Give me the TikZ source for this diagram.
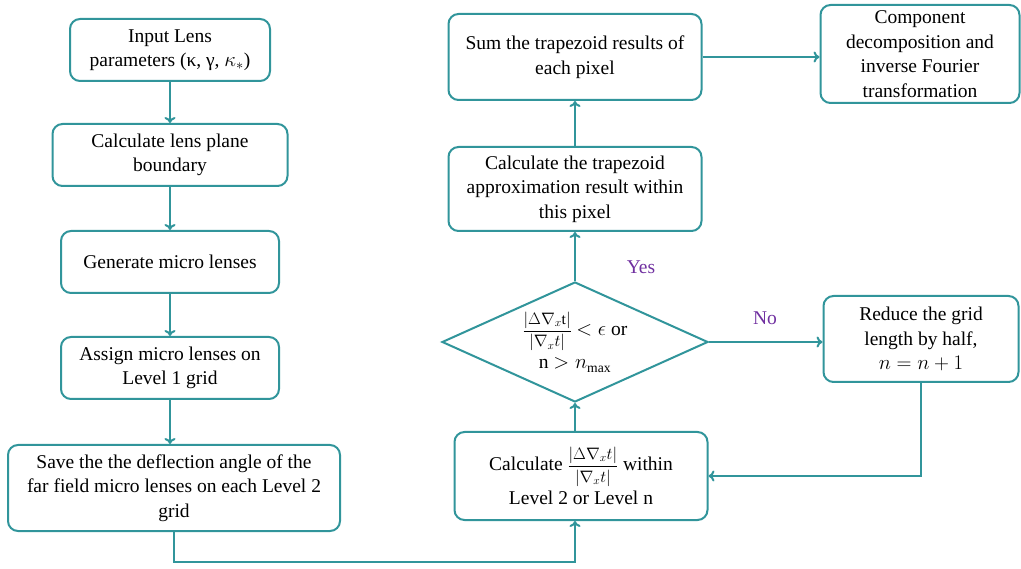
\documentclass[tikz,border=0pt]{standalone}
\usepackage{amsmath}
\usepackage{fontspec}
\setmainfont{Liberation Serif}
\usetikzlibrary{shapes.geometric,arrows.meta}
\definecolor{tealc}{RGB}{49,149,155}
\definecolor{purpc}{RGB}{112,48,160}
\newcommand{\gradfrac}[1]{\scalebox{0.8}{$\dfrac{|\Delta\nabla_x #1|}{|\nabla_x t|}$}}
\tikzset{
	box/.style 2 args={draw=tealc,line width=2pt,rounded corners=10pt,fill=white,minimum width=#1,minimum height=#2,align=center,inner sep=0pt,font=\fontsize{19.5}{24.5}\selectfont},
	dec/.style={diamond,draw=tealc,line width=2pt,fill=white,aspect=2.2,minimum width=266pt,minimum height=120pt,align=center,inner sep=0pt,font=\fontsize{19.5}{24.5}\selectfont},
	lbl/.style={text=purpc,font=\fontsize{19.5}{22}\selectfont},
	link/.style={draw=tealc,line width=2pt,-{To[length=6pt,width=11pt]}}
}

\begin{document}
\begin{tikzpicture}[x=1pt,y=-1pt]
	\useasboundingbox (0,0) rectangle (1021,569);
	% left column
	\node [box={200pt}{62pt}] (inp) at (170,50) {Input Lens\\parameters (κ, γ, $\kappa_*$)};
	\node [box={235pt}{62pt}] (bnd) at (170,155) {Calculate lens plane\\boundary};
	\node [box={218pt}{62pt}] (gen) at (170,262) {Generate micro lenses};
	\node [box={218pt}{62pt}] (asg) at (170,368) {Assign micro lenses on\\Level 1 grid};
	\node [box={332pt}{86pt}] (sav) at (174,488) {Save the the deflection angle of the\\far field micro lenses on each Level 2\\grid};
	% right column
	\node [box={253pt}{88pt}] (clc) at (581,476) {Calculate \gradfrac{t} within\\[4pt]Level 2 or Level n};
	\node [dec] (chk) at (575,342) {\gradfrac{\mathrm{t}} $<\epsilon$ or\\[6pt]n $>n_{\mathrm{max}}$};
	\node [box={253pt}{84pt}] (trp) at (575,189) {Calculate the trapezoid\\approximation result within\\this pixel};
	\node [box={253pt}{86pt}] (sum) at (575,57) {Sum the trapezoid results of\\each pixel};
	\node [box={199pt}{98pt}] (cmp) at (920,54) {Component\\decomposition and\\inverse Fourier\\transformation};
	\node [box={195pt}{86pt}] (red) at (921,339) {Reduce the grid\\length by half,\\$n=n+1$};

	\coordinate (bot) at (575,562);

	\draw[link] (inp) -- (bnd);
	\draw[link] (bnd) -- (gen);
	\draw[link] (gen) -- (asg);
	\draw[link] (asg.south) -- (asg.south |- sav.north);
	\draw[link] (sav.south) |- (bot) -- (bot |- clc.south);
	\draw[link] (chk.south |- clc.north) -- (chk.south);
	\draw[link] (chk.north) -- (trp.south);
	\draw[link] (trp) -- (sum);
	\draw[link] (sum.east) -- (sum.east -| cmp.west);
	\draw[link] (chk.east) -- (chk.east -| red.west);
	\draw[link] (red.south) |- (clc.east);

	\node [lbl] (yes) at (641,267) {Yes};
	\node [lbl] (no) at (765,318) {No};
\end{tikzpicture}
\end{document}
